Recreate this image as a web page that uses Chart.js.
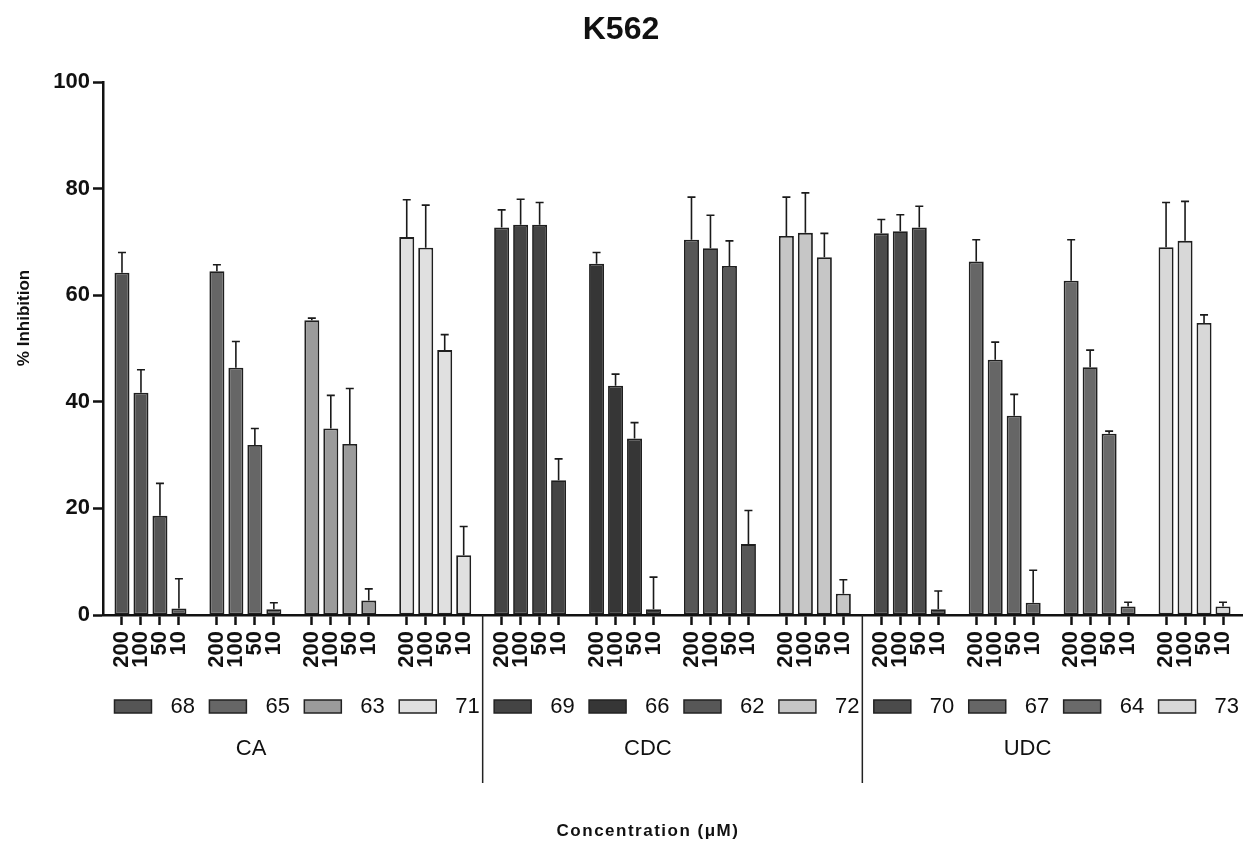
<!DOCTYPE html>
<html>
<head>
<meta charset="utf-8">
<title>K562</title>
<script src="https://cdn.jsdelivr.net/npm/chart.js@4/dist/chart.umd.min.js"></script>
<style>
  html, body { margin: 0; padding: 0; background: #ffffff; }
  canvas { display: block; }
</style>
</head>
<body>
<canvas id="chart" width="1243" height="843"></canvas>
<script>
// Concentrations (µM) tested for every compound, in bar order
const concentrations = ['200', '100', '50', '10'];

// Bile-acid families and the compounds of each family
const families = ['CA', 'CDC', 'UDC'];
const caCompounds = ['68', '65', '63', '71'];
const cdcCompounds = ['69', '66', '62', '72'];
const udcCompounds = ['70', '67', '64', '73'];

// Mean % inhibition per compound (200, 100, 50, 10 µM)
const caMeans = [
  [64.2, 41.7, 18.6, 1.2],
  [64.5, 46.4, 31.9, 1.1],
  [55.3, 35.0, 32.1, 2.7],
  [70.9, 68.9, 49.7, 11.2]
];
const cdcMeans = [
  [72.7, 73.2, 73.2, 25.3],
  [65.9, 43.0, 33.1, 1.1],
  [70.4, 68.8, 65.5, 13.3],
  [71.1, 71.7, 67.1, 4.0]
];
const udcMeans = [
  [71.6, 72.0, 72.7, 1.1],
  [66.3, 47.9, 37.4, 2.3],
  [62.7, 46.5, 34.0, 1.6],
  [69.0, 70.2, 54.8, 1.6]
];

// Upper error (SEM) per compound
const caErrors = [
  [3.8, 4.3, 6.1, 5.6],
  [1.2, 4.9, 3.1, 1.2],
  [0.4, 6.2, 10.4, 2.2],
  [7.0, 8.0, 2.9, 5.4]
];
const cdcErrors = [
  [3.3, 4.8, 4.2, 4.0],
  [2.1, 2.2, 3.0, 6.0],
  [8.0, 6.2, 4.7, 6.3],
  [7.3, 7.5, 4.5, 2.6]
];
const udcErrors = [
  [2.6, 3.1, 4.0, 3.4],
  [4.1, 3.3, 4.0, 6.1],
  [7.7, 3.2, 0.5, 0.8],
  [8.4, 7.4, 1.5, 0.8]
];

// Y-axis tick values
const yTicks = [0, 20, 40, 60, 80, 100];

// Grey fill of each compound's bars
const compoundColors = [
  '#555555', '#666666', '#9b9b9b', '#e0e0e0',
  '#444444', '#363636', '#575757', '#c6c6c6',
  '#4b4b4b', '#666666', '#6a6a6a', '#d8d8d8'
];

// Where each family name sits along the category axis (in slot units)
const familyLabelSlots = [7.8, 28.7, 48.7];

const FONT = "'Liberation Sans', Arial, Helvetica, sans-serif";
const INK = '#111111';

// Flatten the families into one category axis: an empty slot at each end
// and one empty slot between compounds.
const allCompounds = [caCompounds, cdcCompounds, udcCompounds];
const allMeans = [caMeans, cdcMeans, udcMeans];
const allErrors = [caErrors, cdcErrors, udcErrors];

const labels = [''];
const values = [null];
const errors = [null];
const fills = ['rgba(0,0,0,0)'];
const compoundStart = [];   // category index of each compound's first bar
const legendEntries = [];   // compound name for each compound
let compoundIdx = 0;
allCompounds.forEach((names, f) => {
  names.forEach((name, c) => {
    if (compoundIdx > 0) {
      labels.push(''); values.push(null); errors.push(null); fills.push('rgba(0,0,0,0)');
    }
    compoundStart.push(labels.length);
    legendEntries.push(name);
    concentrations.forEach((conc, k) => {
      labels.push(conc);
      values.push(allMeans[f][c][k]);
      errors.push(allErrors[f][c][k]);
      fills.push(compoundColors[compoundIdx]);
    });
    compoundIdx++;
  });
});
labels.push(''); values.push(null); errors.push(null); fills.push('rgba(0,0,0,0)');

// Error bars, legend row, family labels, separators and axis titles
const decorations = {
  id: 'decorations',
  afterDatasetsDraw(chart) {
    const ctx = chart.ctx;
    const y = chart.scales.y;
    const meta = chart.getDatasetMeta(0);
    ctx.save();
    ctx.strokeStyle = '#1a1a1a';
    ctx.lineWidth = 1.6;
    values.forEach((v, i) => {
      if (v === null) return;
      const bar = meta.data[i];
      const top = y.getPixelForValue(v + errors[i]);
      ctx.beginPath();
      ctx.moveTo(bar.x, bar.y);
      ctx.lineTo(bar.x, top);
      ctx.moveTo(bar.x - 4, top);
      ctx.lineTo(bar.x + 4, top);
      ctx.stroke();
    });
    ctx.restore();
  },
  afterDraw(chart) {
    const ctx = chart.ctx;
    const x = chart.scales.x;
    const area = chart.chartArea;
    const meta = chart.getDatasetMeta(0);
    const step = (area.right - area.left) / (labels.length - 1);
    ctx.save();

    // Legend: one swatch + compound number under each compound
    ctx.font = '22px ' + FONT;
    ctx.textBaseline = 'middle';
    ctx.textAlign = 'left';
    legendEntries.forEach((name, g) => {
      const bar = meta.data[compoundStart[g]];
      const left = bar.x - bar.width / 2;
      ctx.fillStyle = compoundColors[g];
      ctx.fillRect(left, 700, 37, 13);
      ctx.strokeStyle = '#222222';
      ctx.lineWidth = 1.5;
      ctx.strokeRect(left, 700, 37, 13);
      ctx.fillStyle = INK;
      ctx.fillText(name, left + 56, 707);
    });

    // Family names
    ctx.textAlign = 'center';
    families.forEach((fam, f) => {
      ctx.fillText(fam, area.left + familyLabelSlots[f] * step, 749);
    });

    // Separators between families
    ctx.strokeStyle = '#222222';
    ctx.lineWidth = 1.5;
    [20, 40].forEach(idx => {
      const px = x.getPixelForValue(idx);
      ctx.beginPath();
      ctx.moveTo(px, area.bottom);
      ctx.lineTo(px, 783);
      ctx.stroke();
    });

    // Y-axis title
    ctx.fillStyle = INK;
    ctx.font = 'bold 17px ' + FONT;
    ctx.save();
    ctx.translate(24, 318);
    ctx.rotate(-Math.PI / 2);
    ctx.textAlign = 'center';
    ctx.textBaseline = 'middle';
    ctx.fillText('% Inhibition', 0, 0);
    ctx.restore();

    // X-axis title
    ctx.font = 'bold 17px ' + FONT;
    ctx.letterSpacing = '1.5px';
    ctx.textAlign = 'center';
    ctx.textBaseline = 'middle';
    ctx.fillText('Concentration (\u03bcM)', 648, 831);
    ctx.restore();
  }
};

new Chart(document.getElementById('chart'), {
  type: 'bar',
  data: {
    labels: labels,
    datasets: [{
      data: values,
      backgroundColor: fills,
      borderColor: '#1f1f1f',
      borderWidth: 1.8,
      borderSkipped: false,
      categoryPercentage: 1,
      barPercentage: 0.79
    }]
  },
  options: {
    responsive: false,
    animation: false,
    devicePixelRatio: 1,
    layout: { padding: { top: 0, right: 1, bottom: 168, left: 0 } },
    plugins: {
      legend: { display: false },
      tooltip: { enabled: false },
      title: {
        display: true,
        text: 'K562',
        color: INK,
        font: { family: FONT, size: 32, weight: 'bold', lineHeight: 1.2 },
        padding: { top: 11, bottom: 32.6 }
      }
    },
    scales: {
      x: {
        type: 'category',
        offset: false,
        grid: {
          display: true,
          offset: false,
          drawOnChartArea: false,
          drawTicks: true,
          tickLength: 10,
          tickWidth: 2.5,
          tickColor: c => (labels[c.index] === '' ? 'rgba(0,0,0,0)' : INK)
        },
        border: { display: true, width: 2.5, color: INK },
        ticks: {
          autoSkip: false,
          maxRotation: 90,
          minRotation: 90,
          padding: 6,
          color: INK,
          font: { family: FONT, size: 22, weight: 'bold' }
        },
        afterFit: s => {
          s.height = 60;
          s.paddingLeft = 0;
          s.paddingRight = 0;
        }
      },
      y: {
        min: 0,
        max: 100,
        afterBuildTicks: s => { s.ticks = yTicks.map(v => ({ value: v })); },
        grid: {
          display: true,
          drawOnChartArea: false,
          tickLength: 10,
          tickWidth: 2.5,
          tickColor: INK
        },
        border: { display: true, width: 2.5, color: INK },
        ticks: {
          padding: 3,
          color: INK,
          font: { family: FONT, size: 22, weight: 'bold' }
        },
        afterFit: s => { s.width = 103; }
      }
    }
  },
  plugins: [decorations]
});
</script>
</body>
</html>
